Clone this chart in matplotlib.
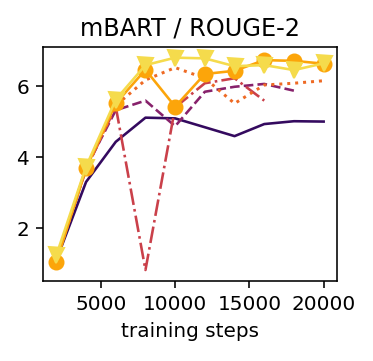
import matplotlib
matplotlib.use("Agg")
import matplotlib.pyplot as plt
import numpy as np

steps = [2000, 4000, 6000, 8000, 10000, 12000, 14000, 16000, 18000, 20000]

s_solid = [1.10, 3.30, 4.43, 5.11, 5.09, 4.84, 4.59, 4.93, 5.01, 5.00]
s_dashed = [1.10, 3.70, 5.32, 5.59, 4.87, 5.84, 5.98, 6.06, 5.87]
s_dashdot = [1.10, 3.65, 5.42, 0.82, 5.40, 6.08, 6.22, 5.59]
s_dotted = [1.10, 3.68, 5.45, 6.17, 6.52, 6.22, 5.51, 6.03, 6.08, 6.15]
s_circle = [1.05, 3.68, 5.51, 6.46, 5.42, 6.34, 6.43, 6.73, 6.71, 6.63]
s_tri = [1.24, 3.73, 5.62, 6.59, 6.80, 6.78, 6.56, 6.59, 6.45, 6.64]

cmap = plt.get_cmap("inferno")
cols = [cmap(v) for v in [0.17, 0.37, 0.54, 0.67, 0.8, 0.91]]

DPI = 144
fig = plt.figure(figsize=(373 / DPI, 361 / DPI), dpi=DPI)
ax = fig.add_axes([0.1153, 0.2216, 0.7882, 0.6482])
ax.plot(steps[:len(s_solid)], s_solid, '-', color=cols[0], lw=1.3)
ax.plot(steps[:len(s_dashed)], s_dashed, '--', color=cols[1], lw=1.3)
ax.plot(steps[:len(s_dashdot)], s_dashdot, '-.', color=cols[2], lw=1.3)
ax.plot(steps[:len(s_dotted)], s_dotted, ':', color=cols[3], lw=1.5)
ax.plot(steps[:len(s_circle)], s_circle, '-o', color=cols[4], lw=1.3, ms=7)
ax.plot(steps[:len(s_tri)], s_tri, '-v', color=cols[5], lw=1.3, ms=7.5)

ax.set_xlim(1100, 20900)
ax.set_ylim(0.51, 7.1)
ax.set_xticks([5000, 10000, 15000, 20000])
ax.set_yticks([2, 4, 6])
ax.tick_params(labelsize=10)
ax.set_xlabel("training steps", fontsize=10)
ax.set_title("mBART / ROUGE-2", fontsize=12)
fig.savefig("out.png", dpi=DPI)
